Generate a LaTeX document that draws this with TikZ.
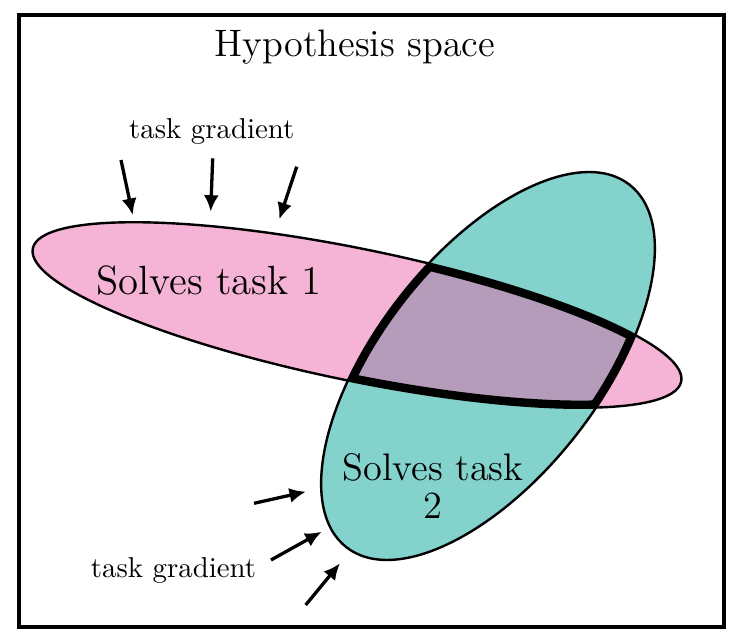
\documentclass[tikz,border=0pt]{standalone}
\usetikzlibrary{arrows.meta}
\definecolor{pinkf}{RGB}{245,180,213}
\definecolor{tealf}{RGB}{132,210,204}
\definecolor{purpf}{RGB}{180,156,186}
\begin{document}
\begin{tikzpicture}[x=1pt,y=1pt,scale=0.33333,
  pinkE/.style={rotate around={-11.6:(357,327)}},
  tealE/.style={rotate around={52:(488,276)}},
  outline/.style={line width=0.8pt},
  thickborder/.style={line width=4.8pt},
  grad/.style={line width=1.1pt,-{Latex[length=5.5pt,width=5pt]}},
  biglabel/.style={inner sep=0pt,font=\fontsize{12.75}{13.2}\selectfont},
  smalllabel/.style={inner sep=0pt,font=\fontsize{9.6}{11}\selectfont}]
\useasboundingbox (0,0) rectangle (738,642);
\draw[line width=1.33pt] (18.7,15) rectangle (724,627.3);
% ellipses
\fill[pinkf,pinkE] (357,327) ellipse [x radius=331,y radius=66];
\fill[tealf,tealE] (488,276) ellipse [x radius=230,y radius=112];
\begin{scope}
  \clip[pinkE] (357,327) ellipse [x radius=331,y radius=66];
  \clip[tealE] (488,276) ellipse [x radius=230,y radius=112];
  \fill[purpf] (0,0) rectangle (738,642);
  \draw[thickborder,pinkE] (357,327) ellipse [x radius=331,y radius=66];
  \draw[thickborder,tealE] (488,276) ellipse [x radius=230,y radius=112];
\end{scope}
\draw[outline,pinkE] (357,327) ellipse [x radius=331,y radius=66];
\draw[outline,tealE] (488,276) ellipse [x radius=230,y radius=112];
% labels
\node[biglabel] (title) at (355,595) {Hypothesis space};
\node[biglabel,font=\fontsize{13.6}{14}\selectfont] (t1) at (209,361) {Solves task 1};
\node[biglabel,align=center,font=\fontsize{12.8}{12.9}\selectfont] (t2) at (433,156) {Solves task\\2};
\node[smalllabel] (g1) at (211.7,511) {task gradient};
\node[smalllabel] (g2) at (173.5,72) {task gradient};
% gradient arrows
\coordinate (a1s) at (121,482);   \coordinate (a1e) at (132.7,427);
\coordinate (a2s) at (212.7,483.7); \coordinate (a2e) at (210.7,430.3);
\coordinate (a3s) at (296.7,475.3); \coordinate (a3e) at (279.3,422.7);
\coordinate (b1s) at (254,138.7); \coordinate (b1e) at (306,150.3);
\coordinate (b2s) at (271,82);    \coordinate (b2e) at (321.7,110.3);
\coordinate (b3s) at (305.7,37);  \coordinate (b3e) at (340,78.7);
\draw[grad] (a1s) -- (a1e);
\draw[grad] (a2s) -- (a2e);
\draw[grad] (a3s) -- (a3e);
\draw[grad] (b1s) -- (b1e);
\draw[grad] (b2s) -- (b2e);
\draw[grad] (b3s) -- (b3e);
\end{tikzpicture}
\end{document}
